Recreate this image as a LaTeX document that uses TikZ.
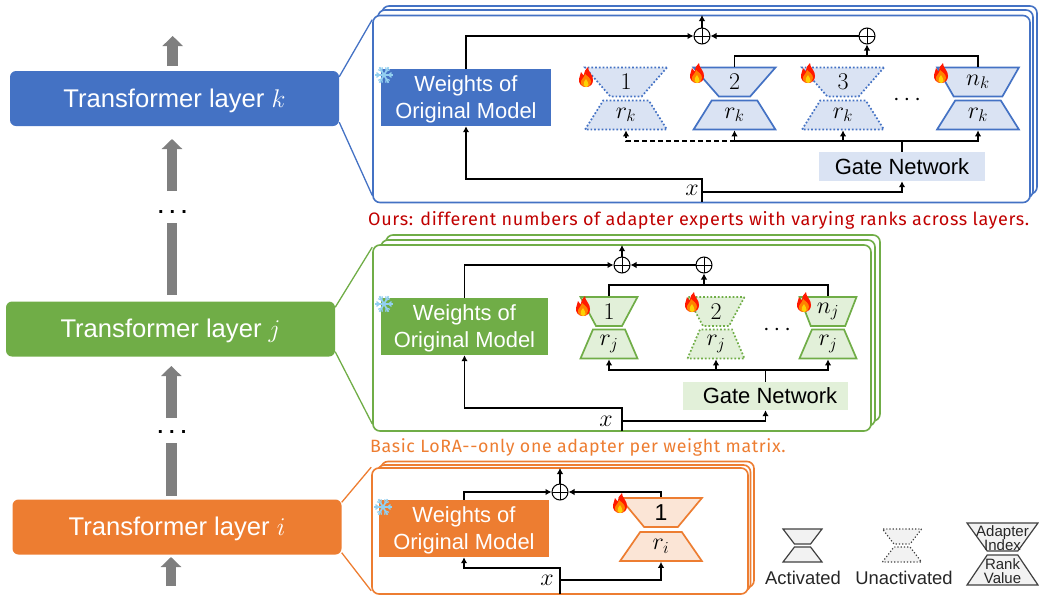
\documentclass[tikz,border=0pt]{standalone}
\usepackage{fix-cm}
\usepackage{fontspec}
\setmainfont{Liberation Sans}
\newfontfamily\capfont[LetterSpace=3.6]{Fira Sans}
\usetikzlibrary{shapes.geometric,arrows.meta}
\definecolor{blueC}{HTML}{4472C4}
\definecolor{blueL}{HTML}{DAE3F3}
\definecolor{greenC}{HTML}{70AD47}
\definecolor{greenL}{HTML}{E2F0D9}
\definecolor{orangeC}{HTML}{ED7D31}
\definecolor{orangeL}{HTML}{FBE5D6}
\definecolor{redC}{HTML}{C00000}
\definecolor{grayC}{HTML}{7F7F7F}
\definecolor{legendC}{HTML}{F2F2F2}
\definecolor{snowC}{HTML}{92CFF0}
\newcommand{\weightstext}{\rule{0pt}{20pt}Weights of\\Original Model}
\tikzstyle{layerbox} = [rounded corners=6pt, minimum width=329pt, minimum height=55pt, inner sep=0, text=white, text height=17pt, text depth=0pt, font=\fontsize{25.6}{29}\selectfont]
\tikzstyle{panel} = [draw, fill=white, rounded corners=7pt, line width=1.6pt, inner sep=0]
\tikzstyle{weights} = [minimum height=57pt, inner sep=0, align=center, text=white, font=\fontsize{21.9}{27}\selectfont]
\tikzstyle{gate} = [inner sep=0, font=\fontsize{22}{25}\selectfont]
\tikzstyle{rankbox} = [trapezium, trapezium stretches=true, draw, line width=1.7pt, inner sep=0, minimum width=82pt, minimum height=29pt, trapezium left angle=60, trapezium right angle=60, font=\fontsize{24}{28}\selectfont]
\tikzstyle{indexbox} = [rankbox, shape border rotate=180]
\tikzstyle{off} = [dotted]
\tikzstyle{thinbox} = [minimum width=57pt, trapezium left angle=67, trapezium right angle=67]
\tikzstyle{oplus} = [circle, draw, line width=1pt, minimum size=16pt, inner sep=0, path picture={\draw[line width=1pt] (path picture bounding box.north)--(path picture bounding box.south) (path picture bounding box.west)--(path picture bounding box.east);}]
\tikzstyle{wire} = [line width=1.4pt]
\tikzstyle{conn} = [wire, -{Latex[length=6pt,width=6.5pt]}]
\tikzstyle{graybar} = [grayC, line width=10.5pt]
\tikzstyle{grayarrow} = [graybar, -{Triangle[width=20pt,length=10pt]}]
\tikzstyle{mathlabel} = [inner sep=0, font=\fontsize{24}{28}\selectfont]
\tikzstyle{layerdots} = [inner sep=0, font=\bfseries\fontsize{20}{20}\selectfont]
\tikzstyle{note} = [inner sep=0, anchor=west, font=\capfont\fontsize{18}{22}\selectfont]
\tikzstyle{legendbox} = [rankbox, fill=legendC, draw=black!75, line width=1.2pt, minimum width=39pt, minimum height=15pt, trapezium left angle=56, trapezium right angle=56, font=\fontsize{5}{5}\selectfont]
\tikzstyle{legendtext} = [inner sep=0, font=\fontsize{18.4}{22}\selectfont, text=black!85]
\tikzstyle{legendsmall} = [inner sep=0, align=center, font=\fontsize{15}{14.5}\selectfont, text=black!85]
\tikzset{
  flame/.pic={
    \fill[red!80!orange] (0,10) .. controls (-5,10) and (-7.5,6) .. (-7,2) .. controls (-6.7,-1) and (-5.5,-2) .. (-5,-5) .. controls (-3.5,-4) and (-2.8,-3) .. (-2.4,-1.5) .. controls (-2,-5) and (-0.5,-8) .. (2,-10) .. controls (1.5,-6) and (7.5,-2) .. (7,3) .. controls (7,7) and (4.5,10) .. (0,10) -- cycle;
    \fill[orange] (0,10) .. controls (-4,10) and (-5.5,7) .. (-5,4) .. controls (-4.5,2) and (-2,1) .. (-1,-3) .. controls (1,-1) and (5,1) .. (5,5) .. controls (5,8) and (3,10) .. (0,10) -- cycle;
    \fill[yellow!70!orange] (0,10) .. controls (-2.5,10) and (-3,7) .. (-2,5) .. controls (-1,4) and (-0.5,3) .. (0,2) .. controls (1,4) and (2.8,6) .. (2.5,8) .. controls (2,9.5) and (1,10) .. (0,10) -- cycle;
  },
  snow/.pic={
    \foreach \a in {0,60,120} \draw[snowC, line width=1.7pt] (\a:-9) -- (\a:9);
    \foreach \a in {0,60,...,300} \draw[snowC, line width=1.2pt, rotate=\a] (4.5,0) -- (7.5,2.4) (4.5,0) -- (7.5,-2.4);
  }
}

\begin{document}
\begin{tikzpicture}[x=1pt,y=-1pt]
  \useasboundingbox (0,0) rectangle (1039,595);
  % left column
  \node[layerbox,fill=blueC](layerk) at (174.5,98.5){Transformer layer $k$};
  \node[layerbox,fill=greenC](layerj) at (170.5,329){Transformer layer $j$};
  \node[layerbox,fill=orangeC](layeri) at (177,527){Transformer layer $i$};
  \coordinate (a1) at (172.7,66);
  \coordinate (a2) at (172.7,36);
  \coordinate (a3) at (172,191);
  \coordinate (a4) at (172,139);
  \coordinate (a5) at (172,223);
  \coordinate (a6) at (172,295);
  \coordinate (a7) at (171.3,418);
  \coordinate (a8) at (171.3,366);
  \coordinate (a9) at (171.3,443);
  \coordinate (a10) at (171.3,496);
  \coordinate (a11) at (171,586);
  \coordinate (a12) at (171,557);
  \draw[grayarrow](a1)--(a2);
  \draw[grayarrow](a3)--(a4);
  \draw[graybar](a5)--(a6);
  \draw[grayarrow](a7)--(a8);
  \draw[graybar](a9)--(a10);
  \draw[grayarrow](a11)--(a12);
  \node[layerdots](dotsk) at (172.5,212){.\hspace{6pt}.\hspace{6pt}.};
  \node[layerdots](dotsj) at (172,432){.\hspace{6pt}.\hspace{6pt}.};

  % panel k
  \node[panel,draw=blueC,minimum width=655pt,minimum height=188pt](pk3) at (709.5,100){};
  \node[panel,draw=blueC,minimum width=655pt,minimum height=188pt](pk2) at (705.5,104){};
  \node[panel,draw=blueC,minimum width=657pt,minimum height=187pt](pk1) at (701.5,109){};
  \draw[blueC,line width=1.3pt]([yshift=-6pt]layerk.north east)--([yshift=-5pt]pk1.north west);
  \draw[blueC,line width=1.3pt]([yshift=4pt]layerk.south east)--([yshift=8pt]pk1.south west);
  \node[weights,fill=blueC,minimum width=170pt](wk) at (466,97.5){\weightstext};
  \node[oplus](pluska) at (702,36){};
  \node[oplus](pluskb) at (867,36){};
  \node[indexbox,draw=blueC,fill=blueL,off](ik1) at (626,82){$1$};
  \node[rankbox,draw=blueC,fill=blueL,off](rk1) at (626,115){$r_k$};
  \node[indexbox,draw=blueC,fill=blueL](ik2) at (734.5,82){$2$};
  \node[rankbox,draw=blueC,fill=blueL](rk2) at (734.5,115){$r_k$};
  \node[indexbox,draw=blueC,fill=blueL,off](ik3) at (843,82){$3$};
  \node[rankbox,draw=blueC,fill=blueL,off](rk3) at (843,115){$r_k$};
  \node[indexbox,draw=blueC,fill=blueL](ik4) at (978,82){$n_k$};
  \node[rankbox,draw=blueC,fill=blueL](rk4) at (978,115){$r_k$};
  \node[mathlabel](dk) at (907,100){$\cdots$};
  \node[gate,fill=blueL,minimum width=166pt,minimum height=29pt](gk) at (902,166.5){Gate Network};
  \node[mathlabel](xk) at (692,190){$x$};
  \coordinate (outk) at (702,15);
  \coordinate (upk) at (867,56);
  \coordinate (busk) at (902,141);
  \coordinate (x0k) at (702,202);
  \coordinate (x1k) at (702,179);
  \coordinate (x2k) at (702,192);
  \draw[conn](wk.north) |- (pluska);
  \draw[conn](pluskb)--(pluska);
  \draw[conn](pluska)--(outk);
  \draw[wire](ik2.north) |- (upk) -| (ik4.north);
  \draw[conn](upk)--(pluskb);
  \draw[wire](gk.north)--(busk);
  \draw[conn](busk) -| (rk2.south);
  \draw[conn](busk) -| (rk3.south);
  \draw[conn](busk) -| (rk4.south);
  \draw[conn,dash pattern=on 5pt off 3pt](rk2.south |- busk) -| (rk1.south);
  \draw[conn](x0k)--(x1k) -| (wk.south);
  \draw[conn](x2k) -| (gk.south);
  \pic at (586,77) {flame};
  \pic at (697,73) {flame};
  \pic at (808,73) {flame};
  \pic at (941,73) {flame};
  \pic at (384,75) {snow};
  \node[note,text=redC](notek) at (368,220){Ours: different numbers of adapter experts with varying ranks across layers.};

  % panel j
  \node[panel,draw=greenC,minimum width=494pt,minimum height=186pt](pj3) at (633,328){};
  \node[panel,draw=greenC,minimum width=494pt,minimum height=186pt](pj2) at (628,333){};
  \node[panel,draw=greenC,minimum width=498pt,minimum height=186pt](pj1) at (622,338){};
  \draw[greenC,line width=1.3pt]([yshift=-6pt]layerj.north east)--([yshift=-3pt]pj1.north west);
  \draw[greenC,line width=1.3pt]([yshift=5pt]layerj.south east)--([yshift=8pt]pj1.south west);
  \node[weights,fill=greenC,minimum width=167pt](wj) at (464.5,326.5){\weightstext};
  \node[oplus](plusja) at (622,265){};
  \node[oplus](plusjb) at (704,265){};
  \node[indexbox,thinbox,draw=greenC,fill=greenL](ij1) at (609,311.5){$1$};
  \node[rankbox,thinbox,draw=greenC,fill=greenL](rj1) at (609,344){$r_j$};
  \node[indexbox,thinbox,draw=greenC,fill=greenL,off](ij2) at (716,311.5){$2$};
  \node[rankbox,thinbox,draw=greenC,fill=greenL,off](rj2) at (716,344){$r_j$};
  \node[indexbox,thinbox,draw=greenC,fill=greenL](ij3) at (828,311.5){$n_j$};
  \node[rankbox,thinbox,draw=greenC,fill=greenL](rj3) at (828,344){$r_j$};
  \node[mathlabel](dj) at (777,330){$\cdots$};
  \node[gate,fill=greenL,minimum width=165pt,minimum height=28pt](gj) at (765.5,396){\hspace*{9pt}Gate Network};
  \node[mathlabel](xj) at (606,421){$x$};
  \coordinate (outj) at (622,245);
  \coordinate (upj) at (704,285);
  \coordinate (busj) at (765.5,370);
  \coordinate (x0j) at (622,431);
  \coordinate (x1j) at (622,408);
  \coordinate (x2j) at (622,421);
  \draw[conn](wj.north) |- (plusja);
  \draw[conn](plusjb)--(plusja);
  \draw[conn](plusja)--(outj);
  \draw[wire](ij1.north) |- (upj) -| (ij3.north);
  \draw[conn](upj)--(plusjb);
  \draw[wire](gj.north)--(busj);
  \draw[conn](busj) -| (rj1.south);
  \draw[conn](busj) -| (rj2.south);
  \draw[conn](busj) -| (rj3.south);
  \draw[conn](x0j)--(x1j) -| (wj.south);
  \draw[conn](x2j) -| (gj.south);
  \pic at (583,306) {flame};
  \pic at (692,302) {flame};
  \pic at (804,302) {flame};
  \pic at (384,304) {snow};
  \node[note,text=orangeC,font=\capfont\fontsize{17.8}{22}\selectfont](notej) at (370,447){Basic LoRA{-}{-}only one adapter per weight matrix.};

  % panel i
  \node[panel,draw=orangeC,minimum width=373pt,minimum height=126pt](pi3) at (567.5,524.5){};
  \node[panel,draw=orangeC,minimum width=373pt,minimum height=126pt](pi2) at (564,528){};
  \node[panel,draw=orangeC,minimum width=376pt,minimum height=126pt](pi1) at (560,531){};
  \draw[orangeC,line width=1.3pt]([yshift=-3pt]layeri.north east)--(pi1.north west);
  \draw[orangeC,line width=1.3pt]([yshift=2pt]layeri.south east)--([yshift=4pt]pi1.south west);
  \node[weights,fill=orangeC,minimum width=170pt](wi) at (464,528.5){\weightstext};
  \node[oplus](plusi) at (560,492){};
  \node[indexbox,draw=orangeC,fill=orangeL,font=\fontsize{23}{27}\selectfont](ii1) at (661,512.5){1};
  \node[rankbox,draw=orangeC,fill=orangeL](ri1) at (661,546.5){$r_i$};
  \node[mathlabel](xi) at (547,580){$x$};
  \coordinate (outi) at (560,468);
  \coordinate (x0i) at (560,594);
  \coordinate (x1i) at (560,568);
  \coordinate (x2i) at (560,580);
  \draw[conn](wi.north) |- (plusi);
  \draw[conn](ii1.north) |- (plusi);
  \draw[conn](plusi)--(outi);
  \draw[conn](x0i)--(x1i) -| (wi.south);
  \draw[conn](x2i) -| (ri1.south);
  \pic at (620,503) {flame};
  \pic at (383,507) {snow};

  % legend
  \node[legendbox,shape border rotate=180](la1) at (802.5,536.5){\phantom{x}};
  \node[legendbox](la2) at (802.5,554.5){\phantom{x}};
  \node[legendtext](la) at (803,578){Activated};
  \node[legendbox,shape border rotate=180,off](lu1) at (902,536.5){\phantom{x}};
  \node[legendbox,off](lu2) at (902,554.5){\phantom{x}};
  \node[legendtext](lu) at (904,578){Unactivated};
  \node[legendbox,shape border rotate=180,minimum width=71pt,minimum height=28pt,trapezium left angle=58,trapezium right angle=58](lv1) at (1002.5,537){\phantom{x}};
  \node[legendbox,minimum width=71pt,minimum height=30pt,trapezium left angle=58,trapezium right angle=58](lv2) at (1002.5,570){\phantom{x}};
  \node[legendsmall](lv1t) at (1002.5,538){Adapter\\Index};
  \node[legendsmall](lv2t) at (1002.5,571){Rank\\Value};
\end{tikzpicture}
\end{document}
